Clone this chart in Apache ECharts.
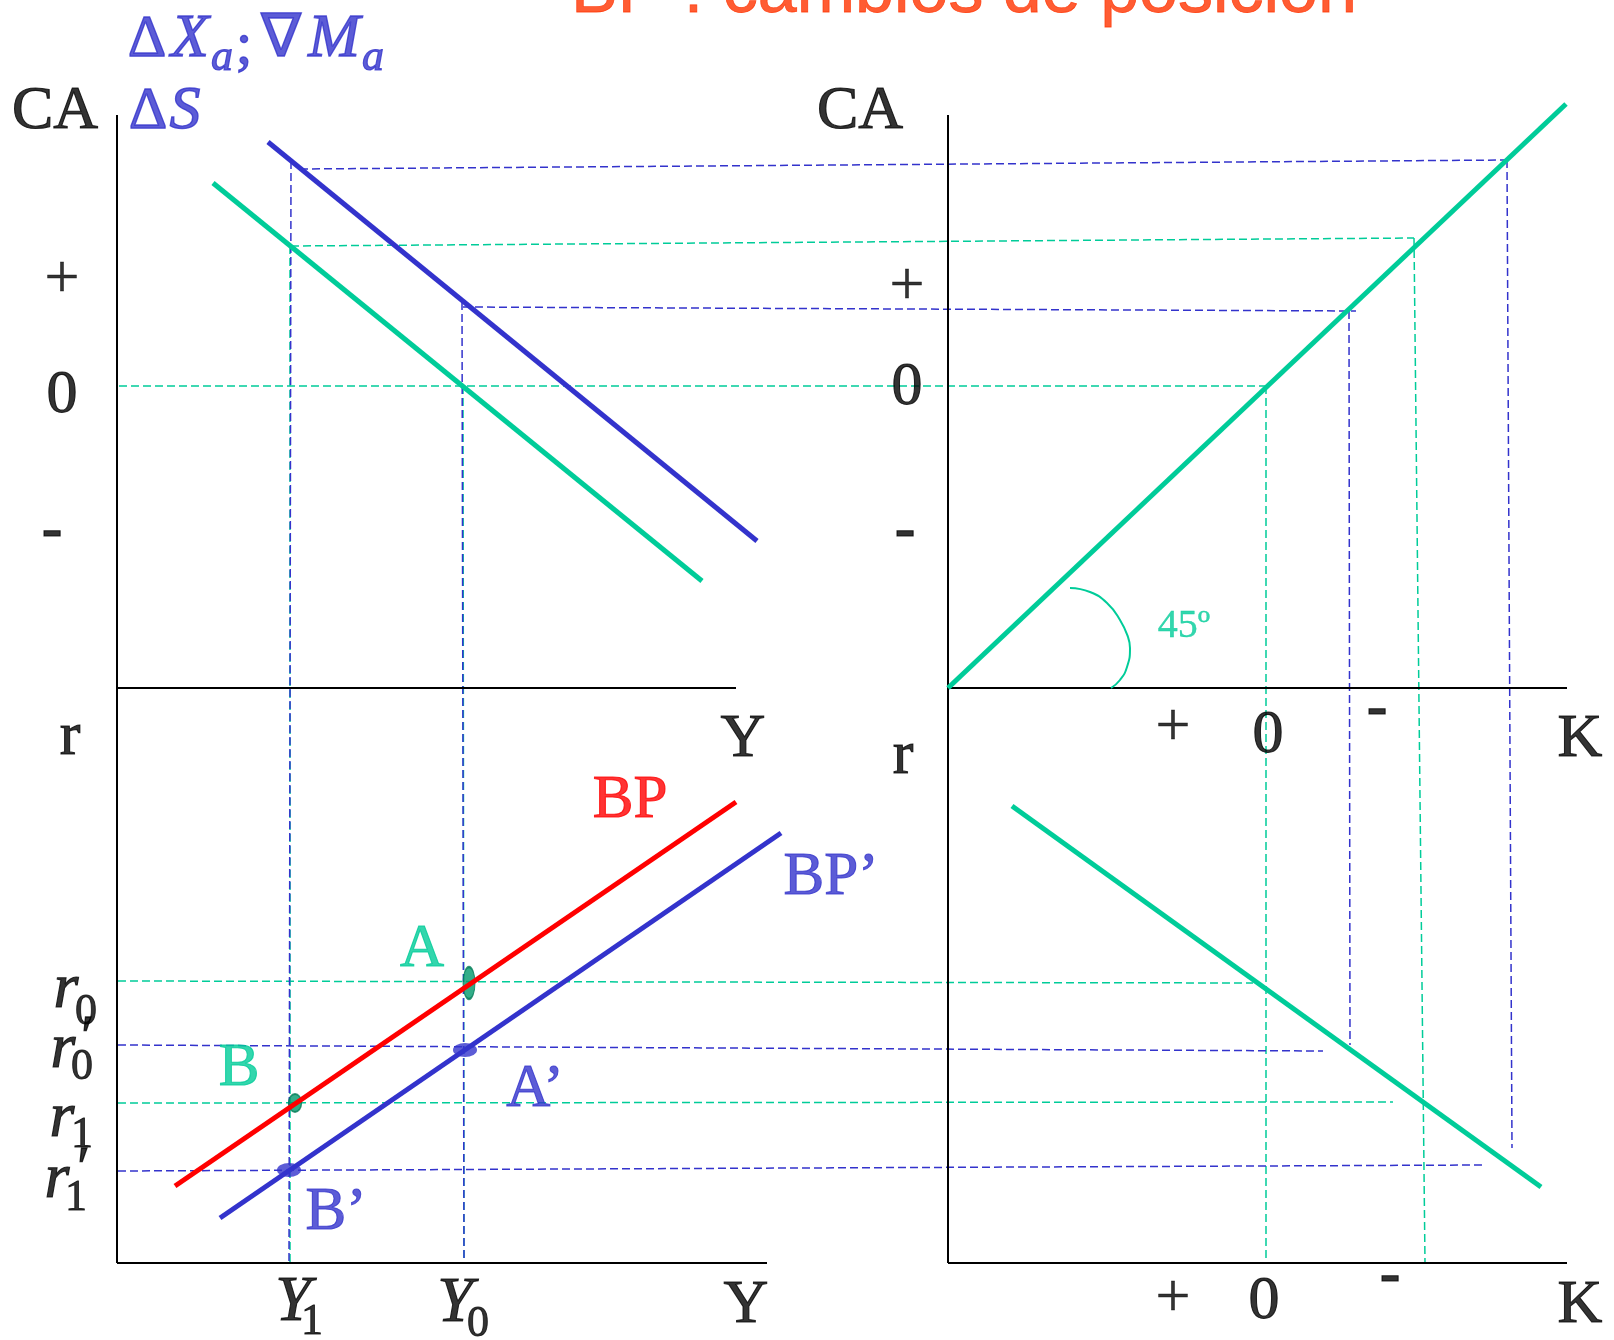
<!DOCTYPE html>
<html><head><meta charset="utf-8">
<script src="https://cdn.jsdelivr.net/npm/echarts@6/dist/echarts.min.js"></script>
<style>html,body{margin:0;padding:0;background:#fff}#c{width:1614px;height:1340px}</style>
</head><body><div id="c"></div>
<script>
// Diagram drawn in a reference frame: x 0..1614 (right), y 0..1340 (down)
// ---- axes (black) ----
const axisLeftV = [[117,115],[117,1263]];
const axisLeftMid = [[117,688],[736,688]];
const axisLeftBottom = [[117,1263],[767,1263]];
const axisRightV = [[948,115],[948,1263]];
const axisRightMid = [[948,688],[1567,688]];
const axisRightBottom = [[948,1263],[1567,1263]];
// ---- curves ----
const caBlue = [[268,142],[757,541]];
const caGreen = [[213,183],[702,581]];
const line45 = [[948,688],[1566,104]];
const bpRed = [[175,1186],[736,802]];
const bpBlue = [[220,1218],[781,833]];
const kGreen = [[1012,806],[1541,1187]];
const arc45 = [[1070,588],[1090,592],[1107,603],[1120,620],[1128,637],[1130,648],[1127,667],[1120,680],[1111,688]];
// ---- dashed guides (green) ----
const gZero = [[119,386],[1266,386]];
const gZeroDown = [[1266,386],[1266,1263]];
const gUpper = [[291,246],[1414,238]];
const gUpperDown = [[1414,238],[1425,1263]];
const gY1 = [[290,246],[290,1263]];
const gY0 = [[463,386],[464,1263]];
const gR0 = [[118,981],[1253,983]];
const gR1 = [[118,1103],[1393,1102]];
// ---- dashed guides (blue) ----
const bTop = [[300,169],[1507,160]];
const bTopDown = [[1507,160],[1512,1148]];
const bMid = [[463,307],[1356,311]];
const bMidDown = [[1349,311],[1350,1045]];
const bY1 = [[291,161],[289,1263]];
const bY0 = [[462,302],[464,1263]];
const bR0p = [[118,1045],[1323,1051]];
const bR1p = [[118,1171],[1483,1165]];
// ---- equilibrium points ----
const greenPoints = [[469,983,12,32],[295,1103,13,18]];
const bluePoints = [[465,1050,24,14],[289,1170,24,14]];
// ---- texts [text, x, y] ----
const titleText = [["BP : cambios de posición",964,4]];
const blackTexts = [["CA",55,112],["CA",860,112],["0",62,396],["0",907,388],
  ["r",70,738],["r",903,757],["Y",743,740],["Y",746,1306],["K",1580,740],["K",1580,1306],
  ["0",1268,736],["0",1264,1302]];
const blackPlus = [["+",62,281],["+",907,288],["+",1173,729],["+",1173,1300]];
const blackDashes = [["-",52,532],["-",905,532],["-",1377,710],["-",1390,1277]];
const redTexts = [["BP",630,801]];
const blueTexts = [["BP’",831,878],["A’",535,1090],["B’",336,1213]];
const greenTexts = [["A",422,950],["B",239,1069]];
const angleText = [["45º",1184,626]];
const blueMathUp = [["Δ",147,40],[";",244,47],["∇",281,40],["Δ",148,112]];
const blueMathIt = [["X",190,40],["M",334,40],["S",185,112]];
const blueMathSub = [["a",222,58],["a",373,58]];
const blackMathIt = [["r",66,990],["r",63,1050],["r",62,1119],["r",57,1180],["Y",293,1303],["Y",455,1304]];
const blackMathSub = [["0",86,1012],["0",82,1067],["1",82,1135],["1",76,1198],["1",312,1322],["0",478,1324]];
const blackPrimes = [["′",84,1040],["′",80,1171]];

const BLUE='#3333CC', GREEN='#00CC99', RED='#FF0000', BLACK='#000000';
const series=[];
function seg(pts,color,width,dashed,z,smooth){
  series.push({type:'line',data:pts,symbol:'none',smooth:!!smooth,silent:true,animation:false,z:z,
    lineStyle:{color:color,width:width,type:dashed?[8,4]:'solid',cap:'butt'}});
}
[axisLeftV,axisLeftMid,axisLeftBottom,axisRightV,axisRightMid,axisRightBottom].forEach(a=>seg(a,BLACK,2,false,3));
[gZero,gZeroDown,gUpper,gUpperDown,gY1,gY0,gR0,gR1].forEach(a=>seg(a,GREEN,1.5,true,2));
[bTop,bTopDown,bMid,bMidDown,bY1,bY0,bR0p,bR1p].forEach(a=>seg(a,BLUE,1.5,true,2));
seg(caBlue,BLUE,5,false,5); seg(caGreen,GREEN,5,false,5); seg(line45,GREEN,5,false,5);
seg(kGreen,GREEN,5,false,5); seg(arc45,GREEN,2,false,5,true);
const ell='path://M0,10A10,10 0 1,1 20,10A10,10 0 1,1 0,10Z';
series.push({type:'scatter',data:greenPoints.map(p=>({value:[p[0],p[1]],symbolSize:[p[2],p[3]]})),symbol:ell,
  itemStyle:{color:'#00996b',borderColor:'#007a55',borderWidth:1.5},z:4,silent:true,animation:false});
seg(bpRed,RED,5,false,5); seg(bpBlue,BLUE,5,false,5);
series.push({type:'scatter',data:bluePoints.map(p=>({value:[p[0],p[1]],symbolSize:[p[2],p[3]]})),symbol:ell,
  itemStyle:{color:BLUE},z:6,silent:true,animation:false});
function texts(items,style,offset){
  const st=Object.assign({show:true,position:'inside',formatter:'{b}',offset:offset||[0,0],textBorderWidth:1.1},style);
  st.textBorderColor=st.color;
  series.push({type:'scatter',symbolSize:1,itemStyle:{color:'transparent'},clip:false,silent:true,animation:false,z:10,
    data:items.map(d=>({value:[d[1],d[2]],name:d[0]})),label:st});
}
const serif='"Liberation Serif","Times New Roman",serif';
texts(titleText,{fontFamily:'"Liberation Sans",Arial,sans-serif',fontSize:70,color:'#FF3300',textBorderWidth:0.8},[0,-11]);
texts(blackTexts,{fontFamily:serif,fontSize:62,color:BLACK});
texts(blackPlus,{fontFamily:serif,fontSize:62,color:BLACK,textBorderWidth:0.5});
texts(blackDashes,{fontFamily:serif,fontSize:62,fontWeight:'bold',color:BLACK});
texts(redTexts,{fontFamily:serif,fontSize:61,color:RED});
texts(blueTexts,{fontFamily:serif,fontSize:61,color:BLUE});
texts(greenTexts,{fontFamily:serif,fontSize:61,color:GREEN});
texts(angleText,{fontFamily:serif,fontSize:40,color:GREEN,textBorderWidth:0.4});
texts(blueMathUp,{fontFamily:serif,fontSize:60,color:BLUE,textBorderWidth:1.4});
texts(blueMathIt,{fontFamily:serif,fontSize:62,fontStyle:'italic',color:BLUE,textBorderWidth:1.4});
texts(blueMathSub,{fontFamily:serif,fontSize:44,fontStyle:'italic',color:BLUE,textBorderWidth:1.2});
texts(blackMathIt,{fontFamily:serif,fontSize:64,fontStyle:'italic',color:BLACK});
texts(blackMathSub,{fontFamily:serif,fontSize:44,color:BLACK,textBorderWidth:0.9});
texts(blackPrimes,{fontFamily:serif,fontSize:56,fontStyle:'italic',color:BLACK,textBorderWidth:1.4});

const chart=echarts.init(document.getElementById('c'),null,{renderer:'canvas'});
chart.setOption({
  animation:false,backgroundColor:'#ffffff',
  grid:{left:0,right:0,top:0,bottom:0},
  xAxis:{type:'value',min:0,max:1614,show:false},
  yAxis:{type:'value',min:0,max:1340,inverse:true,show:false},
  series:series
});
</script></body></html>
